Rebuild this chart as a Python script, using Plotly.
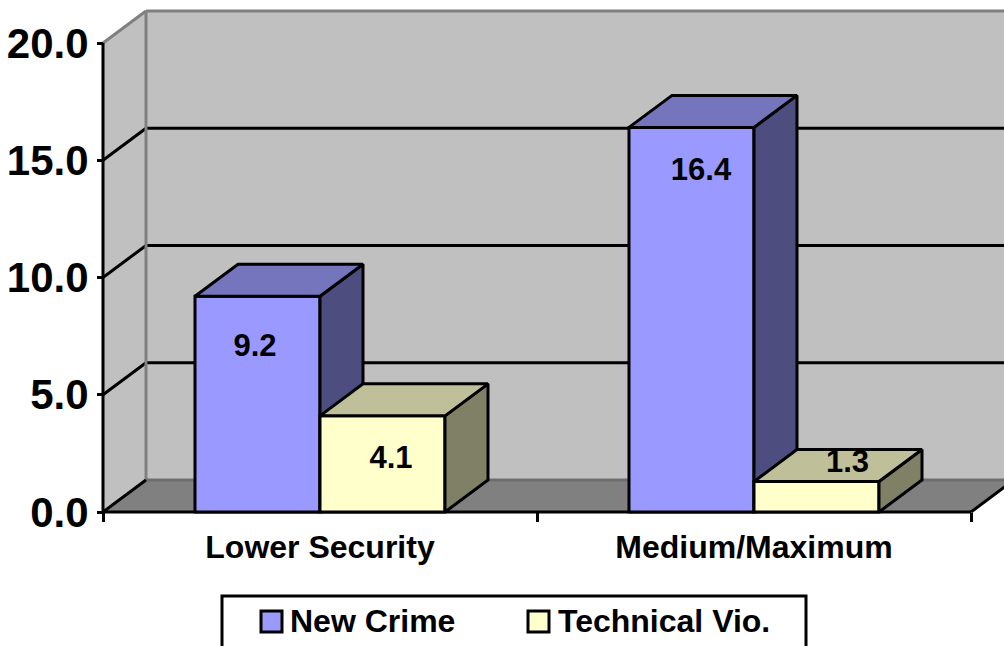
import plotly.graph_objects as go

categories = ["Lower Security", "Medium/Maximum"]
series_names = ["New Crime", "Technical Vio."]
new_crime = [9.2, 16.4]
technical = [4.1, 1.3]
y_ticks = [0, 5, 10, 15, 20]

W, H = 1004, 646
FONT = "Liberation Sans"
# pixel layout of the drawing
PX_X0, PX_PER_CAT = 320.0, 434.0
PX_Y0, PX_PER_VAL = 512.0, 23.45
DEPTH_X = 43.0 / PX_PER_CAT
DEPTH_Y = 32.0 / PX_PER_VAL
BAR_W = 125.0 / PX_PER_CAT
LEFT, RIGHT = -0.5, 1.5
YMAX = 20
LW = 3
x_range = [(0 - PX_X0) / PX_PER_CAT, (W - PX_X0) / PX_PER_CAT]
y_range = [(PX_Y0 - H) / PX_PER_VAL, PX_Y0 / PX_PER_VAL]

STYLES = [
    dict(front="#9999FF", top="#7575BD", side="#4D4D80"),
    dict(front="#FFFFCC", top="#BFBF9A", side="#808066"),
]
AXES = [("x", "y"), ("x2", "y2")]
# label placement relative to bar centre / bar top, in pixels
label_dx = [[-2.5, 9.5], [8.5, 31.0]]
label_dy = [[-52, -45], [-44, 17]]

fig = go.Figure()


def path(points):
    return "M" + "L".join(f"{x},{y}" for x, y in points) + "Z"


shapes = []
def wall(points, fill):
    shapes.append(dict(type="path", path=path(points), xref="x", yref="y", layer="below",
                       fillcolor=fill, line=dict(width=0)))
def seg(x0, y0, x1, y1, color, width):
    shapes.append(dict(type="line", x0=x0, y0=y0, x1=x1, y1=y1, xref="x", yref="y", layer="below",
                       line=dict(color=color, width=width)))

bx = LEFT + DEPTH_X
far = RIGHT + DEPTH_X
wall([(bx, DEPTH_Y), (far, DEPTH_Y), (far, YMAX + DEPTH_Y), (bx, YMAX + DEPTH_Y)], "#C0C0C0")
wall([(LEFT, 0), (bx, DEPTH_Y), (bx, YMAX + DEPTH_Y), (LEFT, YMAX)], "#C0C0C0")
wall([(LEFT, 0), (bx, DEPTH_Y), (far, DEPTH_Y), (RIGHT, 0)], "#808080")
for t in y_ticks[1:-1]:
    seg(bx, t + DEPTH_Y, far, t + DEPTH_Y, "#000000", LW)
    seg(LEFT, t, bx, t + DEPTH_Y, "#000000", LW)
seg(bx, YMAX + DEPTH_Y, far, YMAX + DEPTH_Y, "#808080", LW)
seg(LEFT, YMAX, bx, YMAX + DEPTH_Y, "#808080", LW)
seg(bx, DEPTH_Y, bx, YMAX + DEPTH_Y, "#808080", LW)
seg(bx, DEPTH_Y, far, DEPTH_Y, "#6E6E6E", LW)
seg(LEFT, 0, bx, DEPTH_Y, "#000000", LW)
seg(RIGHT, 0, far, DEPTH_Y, "#000000", LW)
seg(LEFT, 0, LEFT, YMAX, "#000000", LW)
seg(LEFT, 0, RIGHT, 0, "#000000", LW)

xs = list(range(len(categories)))
for s, (name, values) in enumerate(zip(series_names, [new_crime, technical])):
    st = STYLES[s]
    xa, ya = AXES[s]
    x_left = [i - BAR_W + s * BAR_W for i in xs]
    fig.add_trace(go.Bar(x=xs, y=values, width=BAR_W, offset=(s - 1) * BAR_W, name=name,
                         xaxis=xa, yaxis=ya,
                         marker=dict(color=st["front"], line=dict(color="#000000", width=LW)),
                         showlegend=False))
    for x0, v in zip(x_left, values):
        x1 = x0 + BAR_W
        top = [(x0, v), (x1, v), (x1 + DEPTH_X, v + DEPTH_Y), (x0 + DEPTH_X, v + DEPTH_Y), (x0, v)]
        side = [(x1, 0), (x1 + DEPTH_X, DEPTH_Y), (x1 + DEPTH_X, v + DEPTH_Y), (x1, v), (x1, 0)]
        for pts, col in ((side, st["side"]), (top, st["top"])):
            fig.add_trace(go.Scatter(x=[p[0] for p in pts], y=[p[1] for p in pts], mode="lines",
                                     xaxis=xa, yaxis=ya,
                                     fill="toself", fillcolor=col,
                                     line=dict(color="#000000", width=LW),
                                     showlegend=False, hoverinfo="skip"))

for s, values in enumerate([new_crime, technical]):
    fig.add_trace(go.Scatter(
        x=[i + (s - 0.5) * BAR_W + dx / PX_PER_CAT for i, dx in zip(xs, label_dx[s])],
        y=[v + dy / PX_PER_VAL for v, dy in zip(values, label_dy[s])],
        xaxis="x2", yaxis="y2",
        mode="text", text=[f"{v:.1f}" for v in values], textposition="middle center",
        textfont=dict(family=FONT, size=31, color="#000000", weight=700),
        showlegend=False, hoverinfo="skip"))

# legend box
def px(x):
    return x / W
def py(y):
    return 1 - y / H

shapes.append(dict(type="rect", xref="paper", yref="paper", x0=px(222), x1=px(806), y0=py(596), y1=py(650),
                   fillcolor="#FFFFFF", line=dict(color="#000000", width=LW)))
annotations = []
for name, st, sx, tx in zip(series_names, STYLES, [261, 528], [289, 557]):
    shapes.append(dict(type="rect", xref="paper", yref="paper", x0=px(sx), x1=px(sx + 21),
                       y0=py(632), y1=py(611), fillcolor=st["front"],
                       line=dict(color="#000000", width=LW)))
    annotations.append(dict(xref="paper", yref="paper", x=px(tx), y=py(621), xanchor="left", yanchor="middle",
                            text=name, showarrow=False, borderpad=0,
                            font=dict(family=FONT, size=32, color="#000000", weight=700)))

fig.update_layout(
    width=W, height=H, autosize=False, margin=dict(l=0, r=0, t=0, b=0, pad=0),
    paper_bgcolor="#FFFFFF", plot_bgcolor="rgba(0,0,0,0)", barmode="overlay", showlegend=False,
    shapes=shapes, annotations=annotations,
    xaxis=dict(range=x_range, domain=[0, 1], anchor="free", position=(H - PX_Y0) / H, showgrid=False,
               zeroline=False, showline=False, tickmode="array", tickvals=xs, ticktext=categories,
               ticks="", ticklabelstandoff=13,
               tickfont=dict(family=FONT, size=32, color="#000000", weight=700),
               minor=dict(tickmode="array", tickvals=[LEFT, 0.5, RIGHT], ticks="outside", ticklen=9,
                          tickwidth=LW, tickcolor="#000000", showgrid=False)),
    yaxis=dict(range=y_range, domain=[0, 1], anchor="free", position=103 / W, showgrid=False,
               zeroline=False, showline=False, tickmode="array", tickvals=y_ticks,
               ticktext=[f"{t:.1f}" for t in y_ticks], ticks="outside", ticklen=6, tickwidth=LW,
               tickcolor="#000000", ticklabelstandoff=0,
               tickfont=dict(family=FONT, size=42, color="#000000", weight=700)),
    xaxis2=dict(range=x_range, overlaying="x", visible=False, anchor="y2"),
    yaxis2=dict(range=y_range, overlaying="y", visible=False, anchor="x2"),
)
fig.write_html("out.html", config=dict(displayModeBar=False),
               post_script="document.body.style.margin='0';document.body.style.overflow='hidden';")
